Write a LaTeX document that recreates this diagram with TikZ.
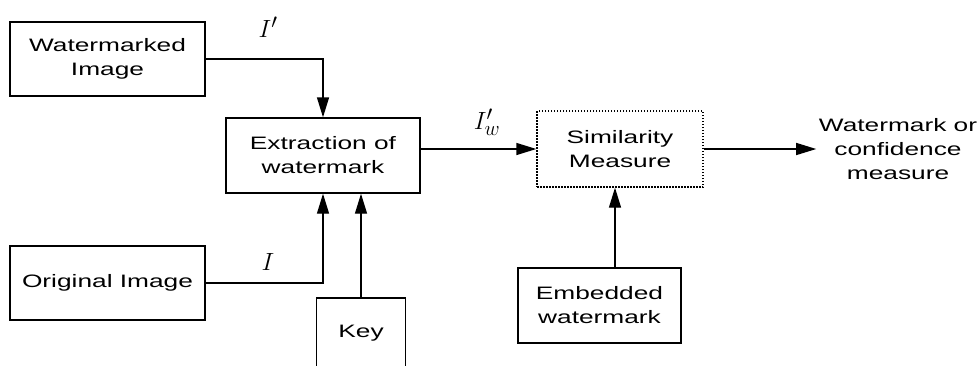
\documentclass[tikz,border=0pt]{standalone}
\usepackage{fontspec}
\setmainfont{Liberation Sans}[FakeStretch=1.46]
\usetikzlibrary{arrows.meta}

\begin{document}
\begin{tikzpicture}[x=1pt, y=-1pt,
  box/.style={draw, line width=1.4pt, align=center, inner sep=0pt,
    font=\fontsize{18}{24}\selectfont},
  arr/.style={line width=1.4pt, -{Triangle[length=20pt,width=12pt]}},
  lbl/.style={font=\fontsize{28}{28}\selectfont}]
\useasboundingbox (0,0) rectangle (979,365);
\clip (0,0) rectangle (979,365);

\node[box, minimum width=195pt, minimum height=74pt] (wimg) at (107.5, 59) {Watermarked\\Image};
\node[box, minimum width=195pt, minimum height=74pt] (orig) at (107.5, 283) {Original Image};
\node[box, minimum width=194pt, minimum height=75pt] (ext) at (323, 155.5) {Extraction of\\watermark};
\node[box, minimum width=89pt, minimum height=70pt] (key) at (361, 333) {Key};
\node[box, dash pattern=on 1.5pt off 1.5pt, minimum width=166pt, minimum height=76pt] (sim) at (620, 149) {Similarity\\Measure};
\node[box, minimum width=163pt, minimum height=75pt] (emb) at (599.5, 305.5) {Embedded\\watermark};
\node[box, draw=none, inner sep=2pt] (out) at (898, 149) {Watermark or\\confidence\\measure};

\node[lbl] (li1) at (268, 27) {$I'$};
\node[lbl] (li) at (268, 262) {$I$};
\node[lbl] (liw) at (487, 122) {$I'_w$};

\draw[arr] (wimg.east) -| (ext.north);
\draw[arr] (orig.east) -| (ext.south);
\draw[arr] (key.north) -- (key.north |- ext.south);
\draw[arr] (ext.east |- sim.west) -- (sim.west);
\draw[arr] (sim.east) -- (out.west);
\draw[arr] ([xshift=15.5pt]emb.north) -- ([xshift=15.5pt]emb.north |- sim.south);

\end{tikzpicture}
\end{document}
